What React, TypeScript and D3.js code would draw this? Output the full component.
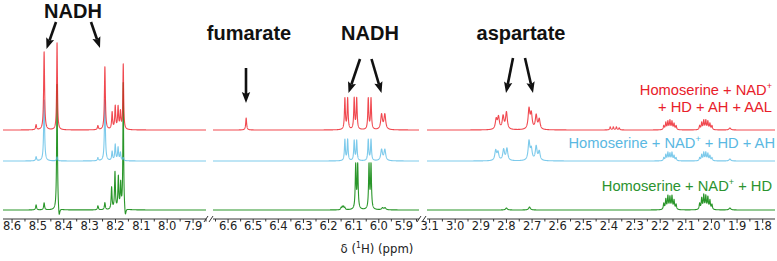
import React from 'react';
import * as d3 from 'd3';

// ---------- data ----------
// x-axis panels (ppm, high -> low)
const panelDomains: [number, number][] = [[8.635, 7.85], [6.66, 5.84], [3.11, 1.752]];
const panelTicks: number[][] = [
  [8.6, 8.5, 8.4, 8.3, 8.2, 8.1, 8.0, 7.9],
  [6.6, 6.5, 6.4, 6.3, 6.2, 6.1, 6.0, 5.9],
  [3.1, 3.0, 2.9, 2.8, 2.7, 2.6, 2.5, 2.4, 2.3, 2.2, 2.1, 2.0, 1.9, 1.8],
];

// peaks: [ppm, intensity, optional half-width ppm]
type Peak = [number, number, number?];

const redPeaks: Peak[] = [
  [8.507, 5], [8.476, 78], [8.426, 87, 0.0018], [8.268, 4], [8.241, 63],
  [8.213, 17], [8.201, 23], [8.19, 22], [8.181, 17], [8.17, 65, 0.0018],
  [6.528, 12],
  [6.135, 31], [6.124, 31], [6.098, 31], [6.088, 31], [6.042, 31], [6.031, 31], [5.989, 15, 0.004], [5.976, 15, 0.004],
  [2.84, 10, 0.004], [2.831, 12, 0.004], [2.813, 13, 0.004], [2.8, 17, 0.004],
  [2.712, 20, 0.004], [2.703, 15, 0.004], [2.684, 14, 0.004], [2.672, 10, 0.004],
  [2.395, 3], [2.383, 3], [2.371, 3], [2.36, 2],
  [2.186, 4], [2.178, 7], [2.17, 8], [2.162, 9], [2.154, 8], [2.146, 6], [2.138, 4],
  [2.046, 4], [2.038, 7], [2.03, 9], [2.022, 9], [2.014, 8], [2.006, 6], [1.998, 4],
  [1.928, 2, 0.004],
];

const bluePeaks: Peak[] = [
  [8.507, 4], [8.476, 61], [8.426, 4], [8.268, 3], [8.241, 61],
  [8.213, 9], [8.201, 16], [8.19, 13], [8.181, 8], [8.17, 3],
  [6.135, 21], [6.124, 21], [6.098, 20], [6.088, 20], [6.042, 21], [6.031, 21], [5.989, 11, 0.004], [5.976, 11, 0.004],
  [2.842, 10, 0.004], [2.833, 8, 0.004], [2.811, 11, 0.004], [2.798, 12, 0.004],
  [2.712, 19, 0.004], [2.703, 11, 0.004], [2.684, 14, 0.004], [2.672, 9, 0.004],
  [2.186, 3], [2.178, 6], [2.17, 8], [2.162, 7], [2.154, 8], [2.146, 5], [2.138, 3],
  [2.046, 3], [2.038, 6], [2.03, 8], [2.022, 8], [2.014, 7], [2.006, 5], [1.998, 3],
  [1.928, 2, 0.004],
];

const greenPeaks: Peak[] = [
  [8.507, 5], [8.476, 7], [8.426, 127, 0.0018], [8.418, -10, 0.003], [8.268, 4], [8.241, 7],
  [8.215, 22, 0.002], [8.202, 37, 0.002], [8.189, 32, 0.002], [8.18, 25, 0.002], [8.17, 127, 0.0016], [8.162, -9, 0.003],
  [6.15, 2], [6.145, 3], [6.14, 3], [6.135, 2],
  [6.092, 44], [6.084, 44], [6.039, 44], [6.031, 44], [5.985, 2, 0.004], [5.975, 2, 0.004],
  [2.8, 2, 0.004], [2.71, 3, 0.004],
  [2.186, 6], [2.178, 10], [2.17, 13], [2.162, 12], [2.154, 13], [2.146, 9], [2.138, 5],
  [2.046, 6], [2.038, 11], [2.03, 14], [2.022, 13], [2.014, 12], [2.006, 9], [1.998, 5],
  [1.928, 2, 0.004],
];

const annotationTexts = ['NADH', 'fumarate', 'NADH', 'aspartate'];
const legendRed1 = ['Homoserine + NAD', '+', ''];
const legendRed2 = '+ HD + AH + AAL';
const legendBlue = ['Homoserine + NAD', '+', ' + HD + AH'];
const legendGreen = ['Homoserine + NAD', '+', ' + HD'];
const axisTitle = ['δ (', '1', 'H) (ppm)'];

// ---------- layout ----------
const W = 777;
const H = 261;
const panelRanges: [number, number][] = [[3, 206], [213, 419], [427, 775]];
const AXIS_Y = 219;
const DEFAULT_HW = 0.0022;
const COLORS = { red: '#ec1c24', blue: '#5cbde6', green: '#2a962a' };
const TEXT_COLORS = { red: '#e8202a', blue: '#5ab8e2', green: '#2b932f' };

const traces = [
  { key: 'green', peaks: greenPeaks, base: 210, color: COLORS.green, op: 1 },
  { key: 'blue', peaks: bluePeaks, base: 161, color: COLORS.blue, op: 0.8 },
  { key: 'red', peaks: redPeaks, base: 130, color: COLORS.red, op: 0.8 },
];

function intensity(peaks: Peak[], x: number) {
  let s = 0;
  for (const p of peaks) {
    const w = p[2] ?? DEFAULT_HW;
    const d = (x - p[0]) / w;
    s += p[1] / (1 + d * d);
  }
  return s;
}

function gridFor(peaks: Peak[], hi: number, lo: number) {
  const xs = d3.range(lo, hi, 0.0003);
  xs.push(hi);
  for (const p of peaks) if (p[0] > lo && p[0] < hi) xs.push(p[0]);
  return xs.sort((a, b) => b - a);
}

function Arrow({ x1, y1, x2, y2 }: { x1: number; y1: number; x2: number; y2: number }) {
  const dx = x2 - x1;
  const dy = y2 - y1;
  const len = Math.hypot(dx, dy);
  const ux = dx / len;
  const uy = dy / len;
  const hl = 11;
  const hw = 4.2;
  const bx = x2 - ux * hl;
  const by = y2 - uy * hl;
  const pts = [
    [x2, y2],
    [bx - uy * hw, by + ux * hw],
    [bx + ux * 2, by + uy * 2],
    [bx + uy * hw, by - ux * hw],
  ];
  return (
    <g>
      <line x1={x1} y1={y1} x2={bx + ux * 2} y2={by + uy * 2} stroke="#111" strokeWidth={2.6} />
      <polygon points={pts.map((p) => p.join(',')).join(' ')} fill="#111" />
    </g>
  );
}

export default function App() {
  const xScales = panelDomains.map((d, i) => d3.scaleLinear().domain(d).range(panelRanges[i]));
  const yScale = d3.scaleLinear().domain([0, 100]).range([0, -100]);
  const fmt = d3.format('.1f');

  const paths: JSX.Element[] = [];
  traces.forEach((t) => {
    xScales.forEach((xs, pi) => {
      const [hi, lo] = panelDomains[pi];
      const grid = gridFor(t.peaks, hi, lo);
      const line = d3
        .line<number>()
        .x((v) => xs(v))
        .y((v) => t.base + yScale(intensity(t.peaks, v)));
      paths.push(
        <path
          key={t.key + pi}
          d={line(grid) || ''}
          fill="none"
          stroke={t.color}
          strokeOpacity={t.op}
          strokeWidth={1.1}
          strokeLinejoin="round"
        />
      );
    });
  });

  const tickFont = "'DejaVu Sans Condensed', 'DejaVu Sans', sans-serif";
  const labelFont = "'Liberation Sans', Arial, sans-serif";

  const annPos = [
    { x: 73, y: 18 },
    { x: 249, y: 40 },
    { x: 370, y: 40 },
    { x: 521, y: 40 },
  ];
  const arrows = [
    { x1: 56, y1: 22, x2: 46.5, y2: 49 },
    { x1: 91, y1: 22, x2: 100, y2: 48 },
    { x1: 246, y1: 68, x2: 246, y2: 103 },
    { x1: 360, y1: 59, x2: 348.5, y2: 93 },
    { x1: 371.5, y1: 59, x2: 381.5, y2: 93 },
    { x1: 513, y1: 58, x2: 506, y2: 93 },
    { x1: 525, y1: 58, x2: 533, y2: 93 },
  ];

  return (
    <svg width={W} height={H} style={{ display: 'block', position: 'absolute', left: 0, top: 0 }}>
      <rect width={W} height={H} fill="#fff" />
      {paths}
      {/* axes */}
      {xScales.map((xs, pi) => {
        const ticks = panelTicks[pi];
        const minor = ticks.slice(0, -1).map((v, i) => (v + ticks[i + 1]) / 2);
        const [hi, lo] = panelDomains[pi];
        const lastMinor = ticks[ticks.length - 1] - 0.05;
        if (lastMinor > lo) minor.push(lastMinor);
        const firstMinor = ticks[0] + 0.05;
        if (firstMinor < hi) minor.push(firstMinor);
        return (
          <g key={'ax' + pi}>
            <line x1={panelRanges[pi][0]} x2={panelRanges[pi][1]} y1={AXIS_Y} y2={AXIS_Y} stroke="#333" strokeWidth={1} />
            {ticks.map((v) => (
              <g key={v}>
                <line x1={xs(v)} x2={xs(v)} y1={AXIS_Y} y2={AXIS_Y + 4} stroke="#333" />
                <text x={xs(v)} y={230} fontFamily={tickFont} fontSize={12.8} textAnchor="middle" fill="#222">
                  {fmt(v)}
                </text>
              </g>
            ))}
            {minor.map((v) => (
              <line key={'m' + v} x1={xs(v)} x2={xs(v)} y1={AXIS_Y} y2={AXIS_Y + 2.5} stroke="#333" />
            ))}
          </g>
        );
      })}
      {/* break marks */}
      {[204, 417].map((bx) => (
        <g key={'br' + bx} stroke="#333" strokeWidth={1}>
          <line x1={bx} y1={222} x2={bx + 4} y2={216} />
          <line x1={bx + 5} y1={222} x2={bx + 9} y2={216} />
        </g>
      ))}
      <text x={377} y={253} fontFamily={tickFont} fontSize={13} textAnchor="middle" fill="#222">
        {axisTitle[0]}
        <tspan dy={-5} fontSize={8.5}>{axisTitle[1]}</tspan>
        <tspan dy={5}>{axisTitle[2]}</tspan>
      </text>
      {/* annotations */}
      {annotationTexts.map((t, i) => (
        <text
          key={'an' + i}
          x={annPos[i].x}
          y={annPos[i].y}
          fontFamily={labelFont}
          fontWeight="bold"
          fontSize={20}
          textAnchor="middle"
          fill="#111"
        >
          {t}
        </text>
      ))}
      {arrows.map((a, i) => (
        <Arrow key={'ar' + i} {...a} />
      ))}
      {/* legend labels */}
      <text x={772} y={95} fontFamily={labelFont} fontSize={14.7} textAnchor="end" fill={TEXT_COLORS.red}>
        {legendRed1[0]}
        <tspan dy={-6} fontSize={9}>{legendRed1[1]}</tspan>
      </text>
      <text x={772} y={112} fontFamily={labelFont} fontSize={14.7} textAnchor="end" fill={TEXT_COLORS.red}>
        {legendRed2}
      </text>
      <text x={775} y={148} fontFamily={labelFont} fontSize={14.7} textAnchor="end" fill={TEXT_COLORS.blue}>
        {legendBlue[0]}
        <tspan dy={-6} fontSize={9}>{legendBlue[1]}</tspan>
        <tspan dy={6}>{legendBlue[2]}</tspan>
      </text>
      <text x={772} y={191} fontFamily={labelFont} fontSize={14.7} textAnchor="end" fill={TEXT_COLORS.green}>
        {legendGreen[0]}
        <tspan dy={-6} fontSize={9}>{legendGreen[1]}</tspan>
        <tspan dy={6}>{legendGreen[2]}</tspan>
      </text>
    </svg>
  );
}
